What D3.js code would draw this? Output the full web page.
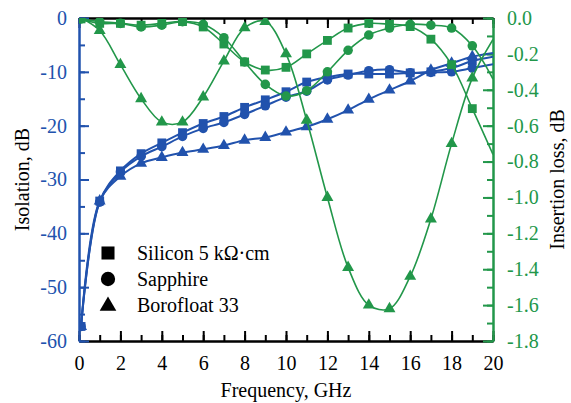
<!DOCTYPE html>
<html>
<head>
<meta charset="utf-8">
<script src="https://cdn.jsdelivr.net/npm/d3@7"></script>
<style>
  body { margin: 0; background: #fff; }
  svg { display: block; }
  text { font-family: "Liberation Serif", "Times New Roman", serif; }
</style>
</head>
<body>
<div id="graph"></div>
<script>
// frequency points, GHz
var freq = [0.1, 1, 2, 3, 4, 5, 6, 7, 8, 9, 10, 11, 12, 13, 14, 15, 16, 17, 18, 19, 20];

// isolation, dB (left axis)
var isoSilicon   = [-57.3, -34.0, -28.4, -25.2, -23.2, -21.3, -19.6, -18.3, -16.6, -15.2, -13.7, -11.9, -11.0, -10.4, -10.4, -10.4, -10.2, -10.0, -9.3, -8.0, -7.2];
var isoSapphire  = [-57.3, -34.2, -28.6, -25.7, -23.9, -22.0, -20.5, -19.4, -17.9, -16.3, -14.7, -13.6, -11.5, -10.6, -9.8, -9.6, -10.2, -10.1, -10.0, -9.3, -8.6];
var isoBorofloat = [-57.3, -34.0, -29.4, -27.0, -25.9, -25.0, -24.4, -23.7, -22.7, -22.2, -21.2, -20.2, -18.8, -17.1, -15.1, -13.4, -11.7, -9.7, -8.4, -7.2, -6.5];

// insertion loss, dB (right axis)
var ilSilicon   = [-0.005, -0.03, -0.03, -0.04, -0.03, -0.02, -0.05, -0.145, -0.245, -0.29, -0.275, -0.2, -0.125, -0.056, -0.03, -0.035, -0.048, -0.118, -0.26, -0.505, -0.76];
var ilSapphire  = [-0.005, -0.02, -0.03, -0.05, -0.04, -0.02, -0.035, -0.11, -0.245, -0.37, -0.435, -0.405, -0.30, -0.18, -0.095, -0.056, -0.035, -0.04, -0.056, -0.155, -0.34];
var ilBorofloat = [0, -0.07, -0.26, -0.45, -0.58, -0.58, -0.44, -0.24, -0.055, -0.02, -0.2, -0.57, -1.0, -1.39, -1.6, -1.62, -1.44, -1.12, -0.70, -0.335, -0.12];

var legendLabels = ["Silicon 5 k\u03A9\u00B7cm", "Sapphire", "Borofloat 33"];
var xTicks = [0, 2, 4, 6, 8, 10, 12, 14, 16, 18, 20];
var isoTicks = [0, -10, -20, -30, -40, -50, -60];
var ilTicks = [0, -0.2, -0.4, -0.6, -0.8, -1.0, -1.2, -1.4, -1.6, -1.8];

var blue = "#2152ad", green = "#22974a";
var W = 571, H = 403;
var mLeft = 79, mRight = 493, mTop = 18, mBottom = 341;

var x = d3.scaleLinear().domain([0, 20]).range([mLeft, mRight]);
var yIso = d3.scaleLinear().domain([-60, 0]).range([mBottom, mTop]);
var yIl = d3.scaleLinear().domain([-1.8, 0]).range([mBottom, mTop]);

var svg = d3.select("#graph").append("svg")
    .attr("width", W)
    .attr("height", H);

svg.append("clipPath").attr("id", "plot")
    .append("rect")
    .attr("x", mLeft).attr("y", mTop)
    .attr("width", mRight - mLeft).attr("height", mBottom - mTop);

function styleAxis(g, color, fontSize) {
    g.selectAll("path").style("stroke", color).style("stroke-width", "2px");
    g.selectAll("line").style("stroke", color).style("stroke-width", "2px");
    g.selectAll("text").style("fill", color).style("font-size", fontSize)
        .style("font-family", "'Liberation Serif', serif");
}

// minor ticks first
svg.append("g").attr("transform", "translate(0," + mBottom + ")")
    .call(d3.axisBottom(x).ticks(20).tickSizeInner(-6).tickSizeOuter(0).tickFormat(""))
    .call(g => styleAxis(g, "#000", "0px"));
svg.append("g").attr("transform", "translate(0," + mTop + ")")
    .call(d3.axisTop(x).ticks(20).tickSizeInner(-6).tickSizeOuter(0).tickFormat(""))
    .call(g => styleAxis(g, "#000", "0px"));

// bottom and top axes
svg.append("g").attr("transform", "translate(0," + mBottom + ")")
    .call(d3.axisBottom(x).tickValues(xTicks).tickSizeInner(-10).tickSizeOuter(0).tickPadding(15))
    .call(g => styleAxis(g, "#000", "20px"));
svg.append("g").attr("transform", "translate(0," + mTop + ")")
    .call(d3.axisTop(x).tickValues(xTicks).tickSizeInner(-10).tickSizeOuter(0).tickFormat(""))
    .call(g => styleAxis(g, "#000", "0px"));

// left axis (isolation)
svg.append("g").attr("transform", "translate(" + mLeft + ",0)")
    .call(d3.axisLeft(yIso).ticks(12).tickSizeInner(-6).tickSizeOuter(0).tickFormat(""))
    .call(g => styleAxis(g, blue, "0px"));
svg.append("g").attr("transform", "translate(" + mLeft + ",0)")
    .call(d3.axisLeft(yIso).tickValues(isoTicks).tickSizeInner(-10).tickSizeOuter(0).tickPadding(12)
        .tickFormat(d3.format("d")))
    .call(g => styleAxis(g, blue, "20px"));

// right axis (insertion loss)
svg.append("g").attr("transform", "translate(" + mRight + ",0)")
    .call(d3.axisRight(yIl).ticks(18).tickSizeInner(-6).tickSizeOuter(0).tickFormat(""))
    .call(g => styleAxis(g, green, "0px"));
svg.append("g").attr("transform", "translate(" + mRight + ",0)")
    .call(d3.axisRight(yIl).tickValues(ilTicks).tickSizeInner(-10).tickSizeOuter(0).tickPadding(14)
        .tickFormat(d3.format(".1f")))
    .call(g => styleAxis(g, green, "20px"));

svg.selectAll(".tick text").text(function() { return this.textContent.replace("\u2212", "-"); });

var plot = svg.append("g").attr("clip-path", "url(#plot)");

function drawSeries(values, yScale, color, shape, lw) {
    var pts = freq.map(function(f, i) { return [f, values[i]]; });
    var line = d3.line()
        .x(function(d) { return x(d[0]); })
        .y(function(d) { return yScale(d[1]); })
        .curve(d3.curveCatmullRom.alpha(0.5));
    plot.append("path")
        .datum(pts)
        .attr("d", line)
        .attr("fill", "none")
        .attr("stroke", color)
        .attr("stroke-width", lw);
    var sym = d3.symbol().type(shape.type).size(shape.size);
    plot.selectAll(null)
        .data(pts.filter(function(d) { return d[0] < 20; }))
        .enter().append("path")
        .attr("d", sym)
        .attr("transform", function(d) { return "translate(" + x(d[0]) + "," + yScale(d[1]) + ")"; })
        .attr("fill", color);
}

var sq = {type: d3.symbolSquare, size: 78};
var ci = {type: d3.symbolCircle, size: 72};
var tr = {type: d3.symbolTriangle, size: 62};

drawSeries(isoSilicon, yIso, blue, sq, 2);
drawSeries(isoSapphire, yIso, blue, ci, 2);
drawSeries(isoBorofloat, yIso, blue, tr, 2);
drawSeries(ilSilicon, yIl, green, sq, 1.6);
drawSeries(ilSapphire, yIl, green, ci, 1.6);
drawSeries(ilBorofloat, yIl, green, tr, 1.6);

// legend
var legendShapes = [
    {type: d3.symbolSquare, size: 170},
    {type: d3.symbolCircle, size: 160},
    {type: d3.symbolTriangle, size: 120}
];
var legendY = [253, 279, 305];
legendLabels.forEach(function(lab, i) {
    svg.append("path")
        .attr("d", d3.symbol().type(legendShapes[i].type).size(legendShapes[i].size))
        .attr("transform", "translate(108," + (legendY[i] + (i == 2 ? 1 : 0)) + ")")
        .attr("fill", "#000");
    svg.append("text")
        .attr("x", 137)
        .attr("y", legendY[i])
        .attr("dy", "0.35em")
        .style("font-size", "20px")
        .style("fill", "#000")
        .text(lab);
});

// axis titles
svg.append("text")
    .attr("x", (mLeft + mRight) / 2)
    .attr("y", 397)
    .attr("text-anchor", "middle")
    .style("font-size", "20px")
    .text("Frequency, GHz");

svg.append("text")
    .attr("transform", "translate(29," + (mTop + mBottom) / 2 + ") rotate(-90)")
    .attr("text-anchor", "middle")
    .style("font-size", "20px")
    .text("Isolation, dB");

svg.append("text")
    .attr("transform", "translate(564," + (mTop + mBottom) / 2 + ") rotate(-90)")
    .attr("text-anchor", "middle")
    .style("font-size", "20px")
    .text("Insertion loss, dB");
</script>
</body>
</html>
